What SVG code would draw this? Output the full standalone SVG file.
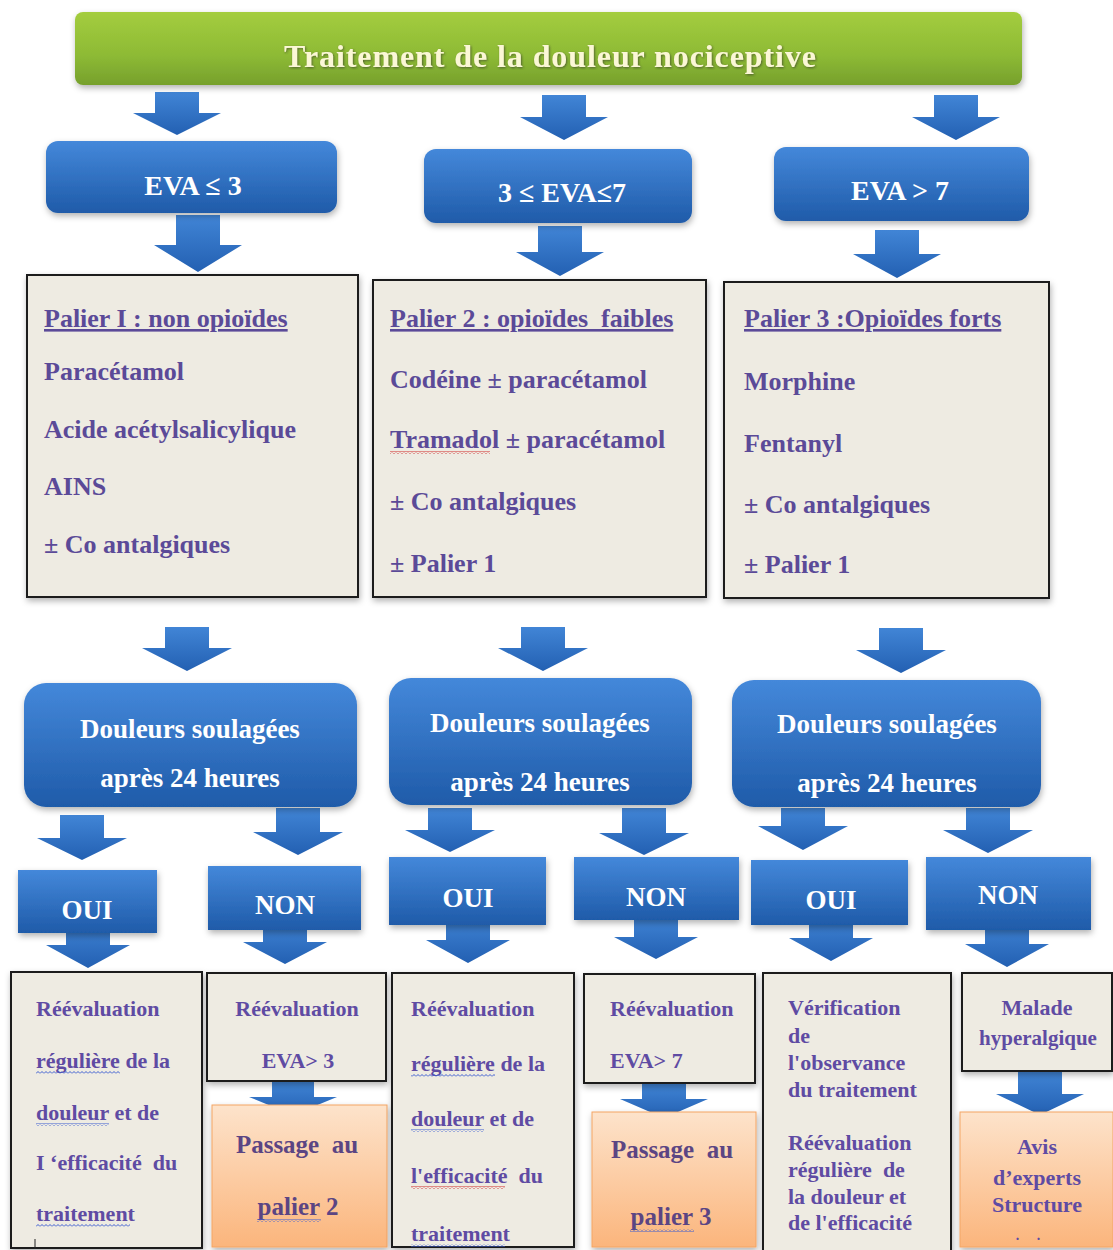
<svg xmlns="http://www.w3.org/2000/svg" width="1113" height="1250" viewBox="0 0 1113 1250">
<defs>
<linearGradient id="gGreen" x1="0" y1="0" x2="0" y2="1"><stop offset="0" stop-color="#a4cd3e"/><stop offset="0.6" stop-color="#8dba35"/><stop offset="1" stop-color="#76a02c"/></linearGradient>
<linearGradient id="gBlue" x1="0" y1="0" x2="0" y2="1"><stop offset="0" stop-color="#4488da"/><stop offset="1" stop-color="#1f5ba9"/></linearGradient>
<linearGradient id="gArrow" x1="0" y1="0" x2="0" y2="1"><stop offset="0" stop-color="#4185d6"/><stop offset="1" stop-color="#2360b2"/></linearGradient>
<linearGradient id="gOrange" x1="0" y1="0" x2="0" y2="1"><stop offset="0" stop-color="#fde3cb"/><stop offset="1" stop-color="#fbb57c"/></linearGradient>
<filter id="sh" x="-10%" y="-10%" width="120%" height="130%"><feDropShadow dx="1" dy="3" stdDeviation="3" flood-color="#000" flood-opacity="0.3"/></filter>
<filter id="tsh" x="-5%" y="-20%" width="110%" height="140%"><feDropShadow dx="1" dy="1" stdDeviation="0.8" flood-color="#2a2a2a" flood-opacity="0.6"/></filter>
<pattern id="wb" width="4" height="3" patternUnits="userSpaceOnUse"><path d="M0,2.5 L2,0.5 L4,2.5" stroke="#3b5bd0" stroke-width="1" fill="none"/></pattern>
<pattern id="wr" width="4" height="3" patternUnits="userSpaceOnUse"><path d="M0,2.5 L2,0.5 L4,2.5" stroke="#d02a2a" stroke-width="1" fill="none"/></pattern>
</defs>
<style>
.arrow{fill:url(#gArrow)}
.blue{fill:url(#gBlue);filter:url(#sh)}
.beige{fill:#eeebe2;stroke:#1e1e1e;stroke-width:2;filter:url(#sh)}
.orange{fill:url(#gOrange);stroke:#f3a565;stroke-width:1;filter:url(#sh)}
text{font-family:"Liberation Serif","Times New Roman",serif;font-weight:bold}
.title{font-size:32px;fill:#fbf7d6}
.w{fill:#ffffff;text-anchor:middle}
.w28{font-size:28px}
.w27{font-size:27px}
.p{fill:#5b4a98;font-size:26px}
.u{text-decoration:underline}
.r{fill:#5f4ba3;font-size:22px}
.o{fill:#5b4583;font-size:25px;text-anchor:middle}
.c{text-anchor:middle}
</style>
<rect width="1113" height="1250" fill="#ffffff"/>

<g id="connectors">
<path class="arrow" d="M155,92 H199 V113 H221 L177,135 L133,113 H155 Z"/>
<path class="arrow" d="M542,95 H586 V117 H608 L564,140 L520,117 H542 Z"/>
<path class="arrow" d="M934,95 H978 V117 H1000 L956,140 L912,117 H934 Z"/>
<path class="arrow" d="M176,215 H220 V245 H242 L198,272 L154,245 H176 Z"/>
<path class="arrow" d="M538,226 H582 V252 H604 L560,276 L516,252 H538 Z"/>
<path class="arrow" d="M875,230 H919 V254 H941 L897,278 L853,254 H875 Z"/>
<path class="arrow" d="M165,627 H209 V648 H232 L187,671 L142,648 H165 Z"/>
<path class="arrow" d="M521,627 H565 V648 H588 L543,671 L498,648 H521 Z"/>
<path class="arrow" d="M879,628 H923 V650 H946 L901,673 L856,650 H879 Z"/>
<path class="arrow" d="M60,815 H104 V838 H127 L82,860 L37,838 H60 Z"/>
<path class="arrow" d="M276,808 H320 V832 H343 L298,855 L253,832 H276 Z"/>
<path class="arrow" d="M428,808 H472 V830 H495 L450,852 L405,830 H428 Z"/>
<path class="arrow" d="M622,808 H666 V833 H689 L644,855 L599,833 H622 Z"/>
<path class="arrow" d="M781,808 H825 V826 H848 L803,850 L758,826 H781 Z"/>
<path class="arrow" d="M966,808 H1010 V830 H1033 L988,853 L943,830 H966 Z"/>
<path class="arrow" d="M66,920 H110 V945 H130 L88,968 L46,945 H66 Z"/>
<path class="arrow" d="M263,920 H307 V942 H327 L285,964 L243,942 H263 Z"/>
<path class="arrow" d="M446,915 H490 V940 H510 L468,963 L426,940 H446 Z"/>
<path class="arrow" d="M634,915 H678 V937 H698 L656,959 L614,937 H634 Z"/>
<path class="arrow" d="M809,915 H853 V938 H873 L831,961 L789,938 H809 Z"/>
<path class="arrow" d="M985,920 H1029 V944 H1049 L1007,967 L965,944 H985 Z"/>
<path class="arrow" d="M272,1081 H314 V1097 H337 L293,1115 L249,1097 H272 Z"/>
<path class="arrow" d="M642,1083 H686 V1099 H708 L664,1118 L620,1099 H642 Z"/>
<path class="arrow" d="M1018,1071 H1062 V1094 H1084 L1040,1115 L996,1094 H1018 Z"/>
</g>

<g id="title">
<rect x="75" y="12" width="947" height="73" rx="8" fill="url(#gGreen)" filter="url(#sh)"/>
<text class="title" x="284" y="67" textLength="532" lengthAdjust="spacing" filter="url(#tsh)">Traitement de la douleur nociceptive</text>
</g>

<g id="eva1"><rect class="blue" x="46" y="141" width="291" height="72" rx="12"/><text class="w w28" x="193" y="195">EVA ≤ 3</text></g>
<g id="eva2"><rect class="blue" x="424" y="149" width="268" height="74" rx="12"/><text class="w w28" x="562" y="202">3 ≤ EVA≤7</text></g>
<g id="eva3"><rect class="blue" x="774" y="147" width="255" height="74" rx="12"/><text class="w w28" x="900" y="200">EVA &gt; 7</text></g>

<g id="palier1">
<rect class="beige" x="27" y="275" width="331" height="322"/>
<text class="p u" x="44" y="327">Palier I : non opioïdes</text>
<text class="p" x="44" y="380">Paracétamol</text>
<text class="p" x="44" y="438">Acide acétylsalicylique</text>
<text class="p" x="44" y="495">AINS</text>
<text class="p" x="44" y="553">± Co antalgiques</text>
</g>
<g id="palier2">
<rect class="beige" x="373" y="280" width="333" height="317"/>
<text class="p u" x="390" y="327" xml:space="preserve">Palier 2 : opioïdes  faibles</text>
<text class="p" x="390" y="388">Codéine ± paracétamol</text>
<text class="p" x="390" y="448">Tramadol ± paracétamol</text>
<rect x="390" y="451" width="100" height="3" fill="url(#wr)"/>
<text class="p" x="390" y="510">± Co antalgiques</text>
<text class="p" x="390" y="572">± Palier 1</text>
</g>
<g id="palier3">
<rect class="beige" x="724" y="282" width="325" height="316"/>
<text class="p u" x="744" y="327">Palier 3 :Opioïdes forts</text>
<text class="p" x="744" y="390">Morphine</text>
<text class="p" x="744" y="452">Fentanyl</text>
<text class="p" x="744" y="513">± Co antalgiques</text>
<text class="p" x="744" y="573">± Palier 1</text>
</g>

<g id="douleurs1"><rect class="blue" x="24" y="683" width="333" height="124" rx="22"/><text class="w w27" x="190" y="738">Douleurs soulagées</text><text class="w w27" x="190" y="787">après 24 heures</text></g>
<g id="douleurs2"><rect class="blue" x="389" y="678" width="303" height="127" rx="22"/><text class="w w27" x="540" y="732">Douleurs soulagées</text><text class="w w27" x="540" y="791">après 24 heures</text></g>
<g id="douleurs3"><rect class="blue" x="732" y="680" width="309" height="127" rx="22"/><text class="w w27" x="887" y="733">Douleurs soulagées</text><text class="w w27" x="887" y="792">après 24 heures</text></g>

<g id="oui1"><rect class="blue" x="18" y="870" width="139" height="63"/><text class="w w27" x="87" y="919">OUI</text></g>
<g id="non1"><rect class="blue" x="208" y="866" width="153" height="64"/><text class="w w27" x="285" y="914">NON</text></g>
<g id="oui2"><rect class="blue" x="389" y="857" width="157" height="68"/><text class="w w27" x="468" y="907">OUI</text></g>
<g id="non2"><rect class="blue" x="574" y="857" width="165" height="63"/><text class="w w27" x="656" y="906">NON</text></g>
<g id="oui3"><rect class="blue" x="751" y="860" width="157" height="65"/><text class="w w27" x="831" y="909">OUI</text></g>
<g id="non3"><rect class="blue" x="926" y="857" width="165" height="73"/><text class="w w27" x="1008" y="904">NON</text></g>

<g id="res1">
<rect class="beige" x="11" y="972" width="191" height="276"/>
<text class="r" x="36" y="1016">Réévaluation</text>
<text class="r" x="36" y="1068">régulière de la</text>
<rect x="36" y="1071" width="84" height="3" fill="url(#wb)"/>
<text class="r" x="36" y="1120">douleur et de</text>
<rect x="36" y="1123" width="73" height="3" fill="url(#wb)"/>
<text class="r" x="36" y="1170" xml:space="preserve">I ‘efficacité  du</text>
<text class="r" x="36" y="1221">traitement</text>
<rect x="36" y="1224" width="94" height="3" fill="url(#wb)"/>
<line x1="35" y1="1239" x2="35" y2="1249" stroke="#222" stroke-width="1"/>
</g>
<g id="res2">
<rect class="beige" x="207" y="973" width="179" height="108"/>
<text class="r c" x="297" y="1016">Réévaluation</text>
<text class="r c" x="298" y="1068">EVA&gt; 3</text>
</g>
<g id="pass2">
<rect class="orange" x="212" y="1105" width="175" height="142"/>
<text class="o" x="297" y="1153" xml:space="preserve">Passage  au</text>
<text class="o" x="298" y="1215">palier 2</text>
<rect x="257" y="1219" width="64" height="3" fill="url(#wb)"/>
</g>
<g id="res3">
<rect class="beige" x="392" y="973" width="182" height="274"/>
<text class="r" x="411" y="1016">Réévaluation</text>
<text class="r" x="411" y="1071">régulière de la</text>
<rect x="411" y="1074" width="84" height="3" fill="url(#wb)"/>
<text class="r" x="411" y="1126">douleur et de</text>
<rect x="411" y="1129" width="73" height="3" fill="url(#wb)"/>
<text class="r" x="411" y="1183" xml:space="preserve">l'efficacité  du</text>
<rect x="411" y="1186" width="94" height="3" fill="url(#wr)"/>
<text class="r" x="411" y="1241">traitement</text>
<rect x="411" y="1244" width="94" height="3" fill="url(#wb)"/>
</g>
<g id="res4">
<rect class="beige" x="584" y="974" width="171" height="109"/>
<text class="r" x="610" y="1016">Réévaluation</text>
<text class="r" x="610" y="1068">EVA&gt; 7</text>
</g>
<g id="pass3">
<rect class="orange" x="592" y="1112" width="164" height="135"/>
<text class="o" x="672" y="1158" xml:space="preserve">Passage  au</text>
<text class="o" x="671" y="1225">palier 3</text>
<rect x="630" y="1229" width="64" height="3" fill="url(#wb)"/>
</g>
<g id="res5">
<rect class="beige" x="763" y="973" width="188" height="282"/>
<text class="r" x="788" y="1015">Vérification</text>
<text class="r" x="788" y="1043">de</text>
<text class="r" x="788" y="1070">l'observance</text>
<text class="r" x="788" y="1097">du traitement</text>
<text class="r" x="788" y="1150">Réévaluation</text>
<text class="r" x="788" y="1177" xml:space="preserve">régulière  de</text>
<text class="r" x="788" y="1204">la douleur et</text>
<text class="r" x="788" y="1230">de l'efficacité</text>
</g>
<g id="res6">
<rect class="beige" x="962" y="973" width="150" height="98"/>
<text class="r c" x="1037" y="1015">Malade</text>
<text class="r c" x="1038" y="1045" style="font-size:21px">hyperalgique</text>
</g>
<g id="avis">
<rect class="orange" x="960" y="1112" width="153" height="135"/>
<text class="r c" x="1037" y="1154">Avis</text>
<text class="r c" x="1037" y="1185">d’experts</text>
<text class="r c" x="1037" y="1212">Structure</text>
<text class="r c" x="1028" y="1240" style="font-size:14px" xml:space="preserve">.     .</text>
</g>
</svg>
